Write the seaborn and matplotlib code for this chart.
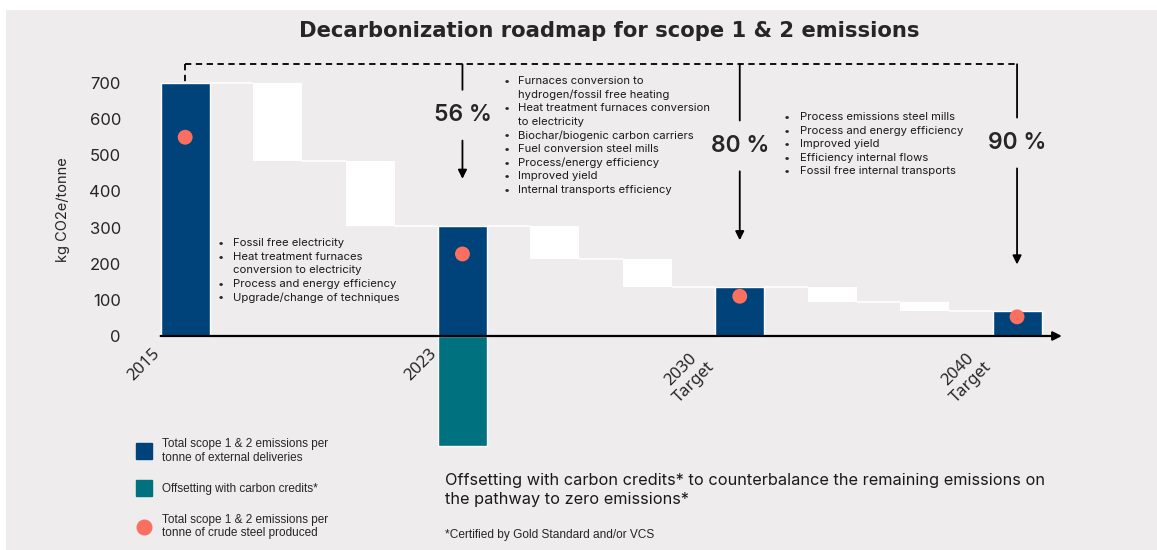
import matplotlib.pyplot as plt
import matplotlib.patches as mpatches
from matplotlib.lines import Line2D
import numpy as np
import pandas as pd
import seaborn as sns

# values (kg CO2e / tonne)
milestones = ["2015", "2023", "2030\nTarget", "2040\nTarget"]
delivery_emissions = [700, 305, 135, 68]
crude_steel_emissions = [550, 227, 110, 53]
carbon_offsets = [0, -305, 0, 0]
step_levels = [485, 213, 95]          # level after the first lever block of each period
reduction_labels = ["56 %", "80 %", "90 %"]

levers_to_2023 = [
    ["Fossil free electricity"],
    ["Heat treatment furnaces", "conversion to electricity"],
    ["Process and energy efficiency"],
    ["Upgrade/change of techniques"],
]
levers_to_2030 = [
    ["Furnaces conversion to", "hydrogen/fossil free heating"],
    ["Heat treatment furnaces conversion", "to electricity"],
    ["Biochar/biogenic carbon carriers"],
    ["Fuel conversion steel mills"],
    ["Process/energy efficiency"],
    ["Improved yield"],
    ["Internal transports efficiency"],
]
levers_to_2040 = [
    ["Process emissions steel mills"],
    ["Process and energy efficiency"],
    ["Improved yield"],
    ["Efficiency internal flows"],
    ["Fossil free internal transports"],
]

NAVY = "#00427A"
TEAL = "#00717F"
SALMON = "#FA6F5F"
BG = "#EEECED"

W, H = 1157, 550


def fx(px):
    return px / W


def fy(py):
    return 1 - py / H


sns.set_theme(style="white")
plt.rcParams["font.family"] = ["Inter", "DejaVu Sans"]

fig = plt.figure(figsize=(W / 100, H / 100), dpi=100)
fig.patch.set_facecolor("white")
fig.patches.append(mpatches.Rectangle((fx(6), 0), 1 - fx(6), fy(10),
                                      transform=fig.transFigure,
                                      facecolor=BG, edgecolor="none", zorder=-5))

ax = fig.add_axes([fx(129.7), 10 / H, 1026 / W, 520 / H])
ax.set_facecolor("none")
ax.set_zorder(2)

# ten slots: milestone, two lever blocks, milestone, ...
slot_names = []
for i, m in enumerate(milestones):
    slot_names.append(m)
    if i < len(milestones) - 1:
        slot_names += [f"lever {i}a", f"lever {i}b"]
milestone_pos = [slot_names.index(m) for m in milestones]
bar_w = 0.53

df = pd.DataFrame({
    "slot": milestones,
    "emissions": delivery_emissions,
    "offsets": carbon_offsets,
})

sns.barplot(data=df, x="slot", y="emissions", order=slot_names, color=NAVY,
            width=bar_w, errorbar=None, saturation=1, ax=ax, zorder=3)
sns.barplot(data=df, x="slot", y="offsets", order=slot_names, color=TEAL,
            width=bar_w, errorbar=None, saturation=1, ax=ax, zorder=3)

# white floating blocks for the reduction levers
run_levels = []
for i in range(len(milestones) - 1):
    top, mid, end = delivery_emissions[i], step_levels[i], delivery_emissions[i + 1]
    p = milestone_pos[i]
    ax.bar([p + 1, p + 2], [top - mid, mid - end], bottom=[mid, end],
           width=bar_w, color="white", linewidth=0, zorder=2)
    run_levels += [top, mid, end]
run_levels.append(delivery_emissions[-1])

# thin white connectors between blocks
for k in range(len(slot_names) - 1):
    ax.plot([k + bar_w / 2, k + 1 - bar_w / 2], [run_levels[k], run_levels[k]],
            color="white", lw=1.2, zorder=1, solid_capstyle="butt")

sns.scatterplot(x=milestone_pos, y=crude_steel_emissions, color=SALMON, s=115,
                edgecolor="none", ax=ax, zorder=5)

# x axis with arrow
ax.annotate("", xy=(9.485, 0), xytext=(-bar_w / 2, 0),
            arrowprops=dict(arrowstyle="-|>", color="black", lw=1.6,
                            mutation_scale=13, shrinkA=0, shrinkB=0),
            zorder=6)

# dashed bracket from the base year to the last target
top_y = 752
ax.plot([milestone_pos[0], milestone_pos[-1]], [top_y, top_y], color="black",
        lw=1.3, ls=(0, (3.5, 2.5)), zorder=4)
ax.plot([milestone_pos[0], milestone_pos[0]], [top_y, delivery_emissions[0]],
        color="black", lw=1.3, ls=(0, (3.5, 2.5)), zorder=4)

label_y = [611, 526, 534]
tip_gap = 130
for i, lab in enumerate(reduction_labels):
    p = milestone_pos[i + 1]
    tip = delivery_emissions[i + 1] + tip_gap
    ax.annotate(lab, xy=(p, tip), xytext=(p, label_y[i]), ha="center",
                va="center", fontsize=16.5, fontweight="semibold",
                arrowprops=dict(arrowstyle="-|>", color="black", lw=1.3,
                                mutation_scale=13, shrinkA=8, shrinkB=0))
    ax.annotate(lab, xy=(p, top_y), xytext=(p, label_y[i]), ha="center",
                va="center", fontsize=16.5, fontweight="semibold", color="none",
                arrowprops=dict(arrowstyle="-", color="black", lw=1.3,
                                shrinkA=8, shrinkB=0))

# move the x axis to zero first: this resets the tick objects
ax.spines["bottom"].set_position(("data", 0))
for s in ax.spines.values():
    s.set_visible(False)

ax.set_xlim(-0.6, 10.5)
ax.set_ylim(-564.5, 874.4)
ax.set_yticks(range(0, 800, 100))
ax.set_xticks(np.array(milestone_pos) - 0.24)
ax.set_xticklabels(milestones, rotation=45, ha="right", multialignment="center",
                   fontsize=12, family="Noto Sans")
ax.tick_params(axis="y", length=0, pad=6.3, labelsize=12)
ax.tick_params(axis="x", length=0, pad=7)
ax.set_xlabel("")
ax.set_ylabel("")

fig.text(fx(609.5), fy(31), "Decarbonization roadmap for scope 1 & 2 emissions",
         ha="center", va="center", fontsize=15.2, fontweight="bold",
         family="DejaVu Sans")
fig.text(fx(63), fy(210), "kg CO2e/tonne", rotation=90, ha="center",
         va="center", fontsize=10.5)


def bullet_list(items, dot_x, text_x, y0, dy=13.6):
    row = 0
    for item in items:
        fig.text(fx(dot_x), fy(y0 + row * dy), "•", ha="center", va="center",
                 fontsize=8)
        for line in item:
            fig.text(fx(text_x), fy(y0 + row * dy), line, ha="left",
                     va="center", fontsize=8.1, color="#1a1a1a")
            row += 1


bullet_list(levers_to_2023, 221, 233, 243)
bullet_list(levers_to_2030, 507, 518.5, 81)
bullet_list(levers_to_2040, 787, 800, 117)

# legend
handles = [
    Line2D([], [], marker="s", ls="none", color=NAVY, markersize=11),
    Line2D([], [], marker="s", ls="none", color=TEAL, markersize=11),
    Line2D([], [], marker="o", ls="none", color=SALMON, markersize=10.5),
]
labels = [
    "Total scope 1 & 2 emissions per\ntonne of external deliveries",
    "Offsetting with carbon credits*",
    "Total scope 1 & 2 emissions per\ntonne of crude steel produced",
]
fig.legend(handles, labels, loc="upper left", bbox_to_anchor=(fx(137), fy(438)),
           frameon=False, borderpad=0, borderaxespad=0, handlelength=1.2,
           handletextpad=0.9, labelspacing=1.6,
           prop={"family": "Liberation Sans", "size": 8.5})

fig.text(fx(445), fy(490),
         "Offsetting with carbon credits* to counterbalance the remaining emissions on\n"
         "the pathway to zero emissions*",
         ha="left", va="center", fontsize=11.75, linespacing=1.3, color="#1a1a1a")
fig.text(fx(445), fy(535), "*Certified by Gold Standard and/or VCS", ha="left",
         va="center", fontsize=8.6, family="Liberation Sans")

fig.savefig("out.png", dpi=100, facecolor=fig.get_facecolor())
